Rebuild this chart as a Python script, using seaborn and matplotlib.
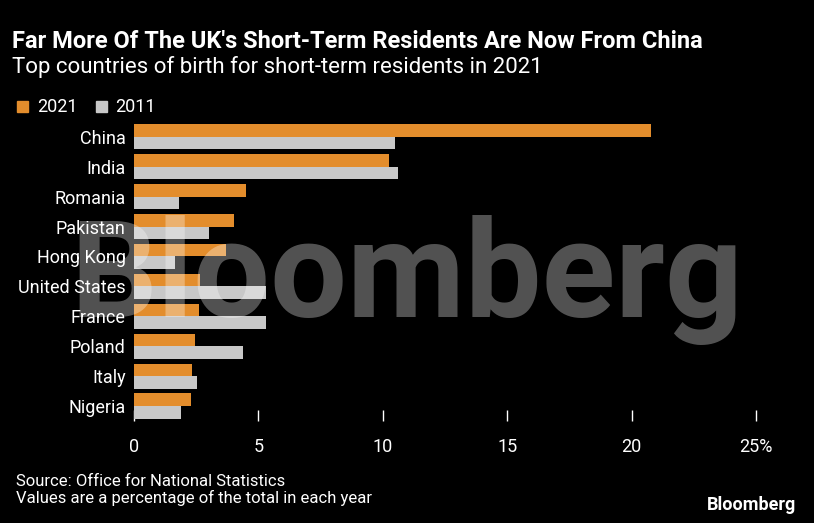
import pandas as pd
import matplotlib.pyplot as plt
import seaborn as sns

# Data (percent of short-term residents)
countries = ["China", "India", "Romania", "Pakistan", "Hong Kong",
             "United States", "France", "Poland", "Italy", "Nigeria"]
share_2021 = [20.8, 10.25, 4.5, 4.0, 3.7, 2.65, 2.6, 2.45, 2.35, 2.3]
share_2011 = [10.5, 10.6, 1.8, 3.0, 1.65, 5.3, 5.3, 4.4, 2.55, 1.9]
years = ["2021", "2011"]
colors = ["#E38D2C", "#C8C8C8"]

df = pd.DataFrame({"country": countries * 2,
                   "share": share_2021 + share_2011,
                   "year": [years[0]] * len(countries) + [years[1]] * len(countries)})

sns.set_style("dark")
plt.rcParams["font.family"] = ["Roboto", "DejaVu Sans"]

fig = plt.figure(figsize=(8.14, 5.23), dpi=100, facecolor="black")
ax = fig.add_axes([0.1646, 0.195, 0.7641, 0.572])
ax.set_facecolor("black")

sns.barplot(data=df, x="share", y="country", hue="year", order=countries,
            hue_order=years, palette=colors, width=0.84, saturation=1,
            linewidth=0, legend=False, ax=ax)

ax.set_xlim(0, 25)
ax.set_ylim(9.5, -0.5)
ax.set_xticks([0, 5, 10, 15, 20, 25])
ax.set_xticklabels(["0", "5", "10", "15", "20", "25%"])
ax.tick_params(axis="x", colors="white", labelsize=13, direction="in",
               bottom=True, length=8, width=1, pad=12)
ax.tick_params(axis="y", colors="white", labelsize=13, length=0, pad=6)
ax.set_xlabel("")
ax.set_ylabel("")
ax.grid(False)
for s in ax.spines.values():
    s.set_visible(False)

# watermark
fig.text(0.5, 0.465, "Bloomberg", color="white", alpha=0.32, fontsize=98,
         fontweight="bold", ha="center", va="center", zorder=10)

fig.text(0.015, 0.92, "Far More Of The UK's Short-Term Residents Are Now From China",
         color="white", fontsize=17, fontweight="bold", va="center")
fig.text(0.015, 0.872, "Top countries of birth for short-term residents in 2021",
         color="white", fontsize=16, va="center")

# legend
fig.patches.append(plt.Rectangle((0.021, 0.786), 0.013, 0.02, color=colors[0],
                                 transform=fig.transFigure, figure=fig))
fig.text(0.045, 0.795, "2021", color="white", fontsize=13, va="center")
fig.patches.append(plt.Rectangle((0.118, 0.786), 0.013, 0.02, color=colors[1],
                                 transform=fig.transFigure, figure=fig))
fig.text(0.142, 0.795, "2011", color="white", fontsize=13, va="center")

fig.text(0.02, 0.08, "Source: Office for National Statistics",
         color="white", fontsize=12, va="center")
fig.text(0.02, 0.047, "Values are a percentage of the total in each year",
         color="white", fontsize=12, va="center")
fig.text(0.978, 0.035, "Bloomberg", color="white", fontsize=13,
         fontweight="bold", ha="right", va="center")

fig.savefig("out.png", dpi=100, facecolor="black")
